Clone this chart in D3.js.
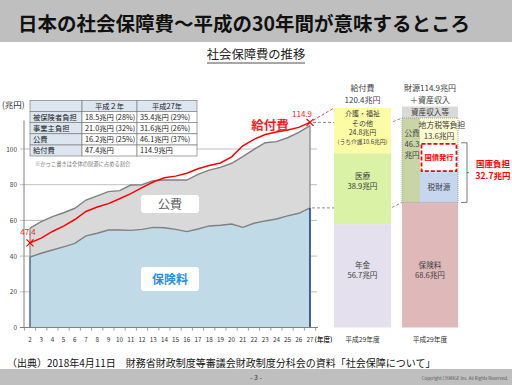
<!DOCTYPE html>
<html><head><meta charset="utf-8">
<script src="https://cdn.jsdelivr.net/npm/d3@7/dist/d3.min.js"></script>
<style>
html,body{margin:0;padding:0;background:#fff;}
svg{display:block;font-family:"Noto Sans CJK JP","Noto Sans",sans-serif;}
</style></head>
<body>
<script>
// ---- data ----
const years = [2,3,4,5,6,7,8,9,10,11,12,13,14,15,16,17,18,19,20,21,22,23,24,25,26,27];
const insurance = [39.5,41.6,43.4,45.2,47.1,51.3,52.8,54.6,54.6,54.4,55.0,56.1,55.9,55.0,53.7,55.2,56.9,57.3,58.0,56.1,58.4,59.7,60.8,62.5,64.0,67.0];
const totalRevenue = [55.7,59.3,62.1,64.3,66.8,71.4,73.7,76.1,76.7,79.8,80.0,82.3,82.6,82.6,82.6,85.8,88.2,89.7,92.0,95.7,99.8,103.5,104.1,106.3,109.3,113.1];
const benefits = [47.4,50.1,53.8,56.8,60.5,65.0,67.5,69.4,72.1,75.0,78.4,81.5,83.9,84.8,86.4,88.9,90.7,92.2,95.6,101.8,105.4,108.1,109.5,110.7,112.1,114.9];
const yTicks = [0,20,40,60,80,100];

const tableHeader = ["", "平成２年", "平成27年"];
const tableRows = [
  ["被保険者負担", "18.5兆円 (28%)", "35.4兆円 (29%)"],
  ["事業主負担", "21.0兆円 (32%)", "31.6兆円 (26%)"],
  ["公費", "16.2兆円 (25%)", "46.1兆円 (37%)"],
  ["給付費", "47.4兆円", "114.9兆円"]
];

// right-hand columns (平成29年度)
const benefitParts = [
  {name:"年金", value:56.7, lines:["年金","56.7兆円"], color:"#e5e0ed"},
  {name:"医療", value:38.9, lines:["医療","38.9兆円"], color:"#d9f2a6"},
  {name:"介護・福祉その他", value:24.8, lines:["介護・福祉","その他","24.8兆円","(うち介護10.6兆円)"], color:"#fdfca6"}
];
const benefitTotal = 120.4;
const revenueInsurance = 68.6;
const revenuePublic = 46.3;
const localTax = 13.6;
const treasury = 32.7;
const treasuryParts = [ {name:"税財源", value:16.6}, {name:"国債発行", value:16.1} ];
const revenueTotal = 114.9;

// ---- svg ----
const W = 512, H = 385;
const svg = d3.select("body").append("svg").attr("width", W).attr("height", H);

// header band
svg.append("rect").attr("x",0).attr("y",0).attr("width",W).attr("height",42).attr("fill","#bfbfbf");
svg.append("text").attr("x",18).attr("y",31).attr("font-size",19.5).attr("font-weight","bold").attr("fill","#111")
  .text("日本の社会保障費～平成の30年間が意味するところ");

// subtitle
svg.append("text").attr("x",256).attr("y",59).attr("text-anchor","middle").attr("font-size",12.3).attr("fill","#222")
  .text("社会保障費の推移");
svg.append("line").attr("x1",207).attr("x2",305).attr("y1",63).attr("y2",63).attr("stroke","#222").attr("stroke-width",0.8);

// footer
svg.append("text").attr("x",7).attr("y",366.5).attr("font-size",10).attr("fill","#111")
  .text("（出典）2018年4月11日　財務省財政制度等審議会財政制度分科会の資料「社会保障について」");
svg.append("rect").attr("x",0).attr("y",369).attr("width",W).attr("height",16).attr("fill","#bfbfbf");
svg.append("text").attr("x",256).attr("y",380).attr("text-anchor","middle").attr("font-size",7).attr("fill","#333").text("- 3 -");
svg.append("text").attr("x",508).attr("y",379.5).attr("text-anchor","end").attr("font-size",4.3).attr("fill","#555")
  .text("Copyright CHANGE Inc. All Rights Reserved.");

// ---- main chart scales ----
const x = d3.scaleBand().domain(years).range([24.4, 315.6]).padding(0);
const xc = d => x(d) + x.bandwidth()/2;
const y = d3.scaleLinear().domain([0,100]).range([327.5, 149]);

// gridlines
const g = svg.append("g");
g.selectAll("line.grid").data(yTicks.filter(d=>d>0)).join("line")
  .attr("x1",20).attr("x2",317).attr("y1",d=>y(d)).attr("y2",d=>y(d))
  .attr("stroke","#bfbfbf").attr("stroke-width",1);
g.selectAll("text.yt").data(yTicks).join("text")
  .attr("x",17).attr("y",d=>y(d)+2.5).attr("text-anchor","end").attr("font-size",6.5).attr("fill","#444").text(d=>d);
svg.append("text").attr("x",2).attr("y",108).attr("font-size",8.5).attr("fill","#333").text("(兆円)");

const rows = years.map((yr,i)=>({yr, ins:insurance[i], tot:totalRevenue[i], ben:benefits[i]}));

// areas
svg.append("path").datum(rows).attr("fill","#d9d9d9")
  .attr("d", d3.area().x(d=>xc(d.yr)).y0(d=>y(d.ins)).y1(d=>y(d.tot)));
svg.append("path").datum(rows).attr("fill","#c0dbe7")
  .attr("d", d3.area().x(d=>xc(d.yr)).y0(y(0)).y1(d=>y(d.ins)));

// area edges
svg.append("path").datum(rows).attr("fill","none").attr("stroke","#808080").attr("stroke-width",1.4)
  .attr("d", d3.line().x(d=>xc(d.yr)).y(d=>y(d.tot)));
svg.append("path").datum(rows).attr("fill","none").attr("stroke","#808080").attr("stroke-width",1.4)
  .attr("d", d3.line().x(d=>xc(d.yr)).y(d=>y(d.ins)));
const first = rows[0], last = rows[rows.length-1];
svg.append("line").attr("x1",xc(first.yr)).attr("x2",xc(first.yr)).attr("y1",y(0)).attr("y2",y(first.ins)).attr("stroke","#4a6a9a").attr("stroke-width",1.5);
svg.append("line").attr("x1",xc(first.yr)).attr("x2",xc(first.yr)).attr("y1",y(first.ins)).attr("y2",y(first.tot)).attr("stroke","#808080").attr("stroke-width",1.2);
svg.append("line").attr("x1",xc(last.yr)).attr("x2",xc(last.yr)).attr("y1",y(0)).attr("y2",y(last.ins)).attr("stroke","#1f3f7f").attr("stroke-width",1.6);
svg.append("line").attr("x1",xc(last.yr)).attr("x2",xc(last.yr)).attr("y1",y(last.ins)).attr("y2",y(last.tot)).attr("stroke","#808080").attr("stroke-width",1.2);

// axes lines
svg.append("line").attr("x1",24).attr("x2",24).attr("y1",y(116)).attr("y2",y(0)).attr("stroke","#808080").attr("stroke-width",1);
svg.append("line").attr("x1",20).attr("x2",318).attr("y1",y(0)).attr("y2",y(0)).attr("stroke","#808080").attr("stroke-width",1);
const bounds = years.map(d=>x(d)).concat([x(years[years.length-1])+x.bandwidth()]);
svg.selectAll("line.xt").data(bounds).join("line")
  .attr("x1",d=>d).attr("x2",d=>d).attr("y1",y(0)).attr("y2",y(0)+3).attr("stroke","#808080").attr("stroke-width",0.8);
svg.selectAll("text.xl").data(years).join("text")
  .attr("x",d=>xc(d)).attr("y",341.5).attr("text-anchor","middle").attr("font-size",6.3).attr("fill","#333").text(d=>d);
svg.append("text").attr("x",314.5).attr("y",341.5).attr("font-size",6.5).attr("font-weight","bold").attr("fill","#333").text("(年度)");

// benefits line
svg.append("path").datum(rows).attr("fill","none").attr("stroke","#ff0000").attr("stroke-width",1.5)
  .attr("d", d3.line().x(d=>xc(d.yr)).y(d=>y(d.ben)));
function cross(cx, cy){
  svg.append("path").attr("d",`M${cx-3.5},${cy-3.5}L${cx+3.5},${cy+3.5}M${cx-3.5},${cy+3.5}L${cx+3.5},${cy-3.5}`)
    .attr("stroke","#ff0000").attr("stroke-width",1.3);
}
cross(xc(first.yr), y(first.ben));
cross(xc(last.yr), y(last.ben));
svg.append("text").attr("x",xc(first.yr)-2).attr("y",y(first.ben)-8).attr("text-anchor","middle").attr("font-size",8).attr("fill","#ff2020").text(first.ben.toFixed(1));
svg.append("text").attr("x",xc(last.yr)-8).attr("y",y(last.ben)-5).attr("text-anchor","middle").attr("font-size",8).attr("fill","#ff2020").text(last.ben.toFixed(1));
svg.append("text").attr("x",270).attr("y",130).attr("text-anchor","middle").attr("font-size",12.5).attr("font-weight","bold").attr("fill","#ff1a1a").text("給付費");

// labels in areas
svg.append("rect").attr("x",141).attr("y",195).attr("width",58).attr("height",18).attr("rx",3).attr("fill","#fff");
svg.append("text").attr("x",170).attr("y",208.5).attr("text-anchor","middle").attr("font-size",12).attr("fill","#595959").text("公費");
svg.append("rect").attr("x",141).attr("y",267).attr("width",58).attr("height",24).attr("rx",3).attr("fill","#fff");
svg.append("text").attr("x",170).attr("y",284).attr("text-anchor","middle").attr("font-size",12).attr("font-weight","bold").attr("fill","#2b8fe0").text("保険料");

// ---- table ----
const colX = [30, 82, 137, 197];
const rowY = [100.5, 111.5, 122.5, 133.8, 145, 156];
const tg = svg.append("g");
const allRows = [tableHeader].concat(tableRows);
allRows.forEach((r, ri)=>{
  r.forEach((c, ci)=>{
    const bg = (ri===0 || ci===0) ? "#dce6f1" : "#ffffff";
    tg.append("rect").attr("x",colX[ci]).attr("y",rowY[ri]).attr("width",colX[ci+1]-colX[ci]).attr("height",rowY[ri+1]-rowY[ri])
      .attr("fill",bg).attr("stroke","#7f7f7f").attr("stroke-width",0.7);
    const centered = ri===0;
    tg.append("text").attr("x", centered ? (colX[ci]+colX[ci+1])/2 : colX[ci]+3)
      .attr("y",rowY[ri]+8.3).attr("text-anchor", centered?"middle":"start")
      .attr("font-size",7.3).attr("fill","#222").text(c);
  });
});
svg.append("text").attr("x",35).attr("y",166).attr("font-size",5.3).attr("fill","#777").text("※かっこ書きは全体の財源に占める割合");

// ---- right columns ----
const yR = d3.scaleLinear().domain([0, benefitTotal]).range([327.5, 108]);
const c1 = {x0:334, x1:391}, c2 = {x0:402, x1:458};
const c1c = (c1.x0+c1.x1)/2, c2c = (c2.x0+c2.x1)/2;

// dashed connectors (behind columns)
svg.append("path").attr("d",`M${xc(last.yr)+3},${y(revenueTotal)}L${c1.x1},${y(revenueTotal)}L${c2.x0},${yR(revenueTotal)}`)
  .attr("fill","none").attr("stroke","#808080").attr("stroke-width",0.9).attr("stroke-dasharray","3,2");
svg.append("path").attr("d",`M${xc(last.yr)+2},${y(last.ins)}L${c1.x1},${y(last.ins)}L${c2.x0},${yR(revenueInsurance)}`)
  .attr("fill","none").attr("stroke","#808080").attr("stroke-width",0.9).attr("stroke-dasharray","3,2");
svg.append("path").attr("d",`M${xc(last.yr)+3},${y(last.ben)-2}L${c1.x0},${yR(benefitTotal)}`)
  .attr("fill","none").attr("stroke","#ff3030").attr("stroke-width",0.9).attr("stroke-dasharray","3,2");

// column 1 stacked
let acc = 0;
benefitParts.forEach(p=>{
  const y0 = yR(acc), y1 = yR(acc+p.value);
  svg.append("rect").attr("x",c1.x0).attr("y",y1).attr("width",c1.x1-c1.x0).attr("height",y0-y1).attr("fill",p.color);
  acc += p.value;
});
// column 1 labels
const c1LabelY = {"年金":[265,275], "医療":[176.5,186.5], "介護・福祉その他":[113.5,123,132.5,141.8]};
benefitParts.forEach(p=>{
  p.lines.forEach((t,i)=>{
    svg.append("text").attr("x",c1c).attr("y",c1LabelY[p.name][i]+2.6).attr("text-anchor","middle")
      .attr("font-size", i===3 ? 5.8 : (p.lines.length>2 ? 7 : 7.6)).attr("fill","#404040").text(t);
  });
});
svg.append("text").attr("x",c1c).attr("y",91).attr("text-anchor","middle").attr("font-size",8).attr("fill","#404040").text("給付費");
svg.append("text").attr("x",c1c).attr("y",103).attr("text-anchor","middle").attr("font-size",8).attr("fill","#404040").text(benefitTotal.toFixed(1)+"兆円");

// column 2
svg.append("text").attr("x",c2c).attr("y",91).attr("text-anchor","middle").attr("font-size",8).attr("fill","#404040").text("財源"+revenueTotal.toFixed(1)+"兆円");
svg.append("text").attr("x",c2c).attr("y",103).attr("text-anchor","middle").attr("font-size",8).attr("fill","#404040").text("＋資産収入");
svg.append("rect").attr("x",c2.x0).attr("y",yR(revenueTotal)-11.5).attr("width",c2.x1-c2.x0).attr("height",11.5).attr("fill","#d9d9d9");
svg.append("text").attr("x",c2c).attr("y",yR(revenueTotal)-3).attr("text-anchor","middle").attr("font-size",7.6).attr("fill","#404040").text("資産収入等");
// insurance
svg.append("rect").attr("x",c2.x0).attr("y",yR(revenueInsurance)).attr("width",c2.x1-c2.x0).attr("height",yR(0)-yR(revenueInsurance)).attr("fill","#dfb8ba");
svg.append("text").attr("x",c2c).attr("y",268).attr("text-anchor","middle").attr("font-size",7.6).attr("fill","#404040").text("保険料");
svg.append("text").attr("x",c2c).attr("y",278).attr("text-anchor","middle").attr("font-size",7.6).attr("fill","#404040").text(revenueInsurance.toFixed(1)+"兆円");
// public funds
const pubTop = yR(revenueInsurance+revenuePublic), pubBot = yR(revenueInsurance);
const innerX = 420;
svg.append("rect").attr("x",c2.x0).attr("y",pubTop).attr("width",innerX-c2.x0).attr("height",pubBot-pubTop).attr("fill","#c9d5a5");
svg.append("rect").attr("x",innerX).attr("y",pubTop).attr("width",c2.x1-innerX).attr("height",yR(revenueInsurance+treasury)-pubTop).attr("fill","#fffbd0");
// treasury parts
let tacc = revenueInsurance;
treasuryParts.forEach(p=>{
  const y0 = yR(tacc), y1 = yR(tacc+p.value);
  if(p.name==="税財源"){
    svg.append("rect").attr("x",innerX).attr("y",y1).attr("width",c2.x1-innerX).attr("height",y0-y1).attr("fill","#c6d6ef");
    svg.append("text").attr("x",(innerX+c2.x1)/2).attr("y",(y0+y1)/2+3).attr("text-anchor","middle").attr("font-size",7.6).attr("fill","#404040").text(p.name);
  } else {
    svg.append("rect").attr("x",innerX+1.5).attr("y",y1+1).attr("width",c2.x1-innerX-3).attr("height",y0-y1-2).attr("fill","#fff")
      .attr("stroke","#ff0000").attr("stroke-width",1.8).attr("stroke-dasharray","4,2");
    svg.append("text").attr("x",(innerX+c2.x1)/2).attr("y",(y0+y1)/2+2.8).attr("text-anchor","middle").attr("font-size",7.3).attr("font-weight","bold").attr("fill","#ff0000").text(p.name);
  }
  tacc += p.value;
});
svg.append("rect").attr("x",c2.x0).attr("y",pubTop).attr("width",c2.x1-c2.x0).attr("height",pubBot-pubTop)
  .attr("fill","none").attr("stroke","#808080").attr("stroke-width",0.7).attr("stroke-dasharray","1,1");
svg.append("text").attr("x",(innerX+c2.x1)/2+3).attr("y",128).attr("text-anchor","middle").attr("font-size",7.8).attr("fill","#404040").text("地方税等負担");
svg.append("text").attr("x",(innerX+c2.x1)/2).attr("y",138.5).attr("text-anchor","middle").attr("font-size",7.8).attr("fill","#404040").text(localTax.toFixed(1)+"兆円");
[["公費",136],[revenuePublic.toFixed(1),147],["兆円",158]].forEach(([t,yy])=>{
  svg.append("text").attr("x",412).attr("y",yy).attr("text-anchor","middle").attr("font-size",7.6).attr("fill","#404040").text(t);
});
// bracket
const bTop = yR(revenueInsurance+treasury), bBot = yR(revenueInsurance);
svg.append("path").attr("d",`M461,${bTop}H467V${bBot}H461M467,${(bTop+bBot)/2}H469`).attr("fill","none").attr("stroke","#595959").attr("stroke-width",0.8);
svg.append("text").attr("x",493).attr("y",167).attr("text-anchor","middle").attr("font-size",8.5).attr("font-weight","bold").attr("fill","#ff0000").text("国庫負担");
svg.append("text").attr("x",493).attr("y",179).attr("text-anchor","middle").attr("font-size",8.5).attr("font-weight","bold").attr("fill","#ff0000").text(treasury.toFixed(1)+"兆円");

// bottom labels
svg.append("text").attr("x",c1c).attr("y",341.5).attr("text-anchor","middle").attr("font-size",6.8).attr("fill","#333").text("平成29年度");
svg.append("text").attr("x",c2c).attr("y",341.5).attr("text-anchor","middle").attr("font-size",6.8).attr("fill","#333").text("平成29年度");
</script>
</body></html>
